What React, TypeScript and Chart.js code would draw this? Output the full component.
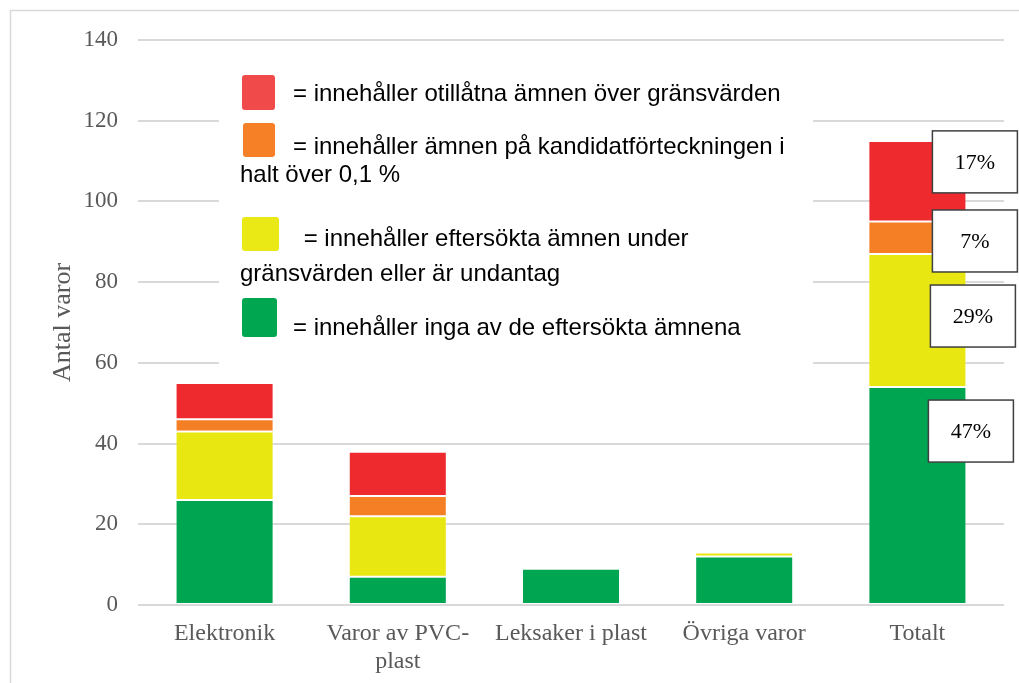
import React, { useEffect, useRef } from "react";
import { Chart, registerables } from "chart.js";

Chart.register(...registerables);

const categories: (string | string[])[] = [
  "Elektronik",
  ["Varor av PVC-", "plast"],
  "Leksaker i plast",
  "Övriga varor",
  "Totalt",
];
const greenValues = [26, 7, 9, 12, 54];
const yellowValues = [17, 15, 0, 1, 33];
const orangeValues = [3, 5, 0, 0, 8];
const redValues = [9, 11, 0, 0, 20];
const yTickValues = [0, 20, 40, 60, 80, 100, 120, 140];
const yTitle = "Antal varor";

const legendRed = ["= innehåller otillåtna ämnen över gränsvärden"];
const legendOrange = ["= innehåller ämnen på kandidatförteckningen i", "halt över 0,1 %"];
const legendYellow = [" = innehåller eftersökta ämnen under", "gränsvärden eller är undantag"];
const legendGreen = ["= innehåller inga av de eftersökta ämnena"];

const RED = "#EE2A2F";
const ORANGE = "#F47F25";
const YELLOW = "#E9E712";
const GREEN = "#00A551";

const decorPlugin = {
  id: "decor",
  beforeDraw(chart: any) {
    const ctx = chart.ctx;
    ctx.save();
    ctx.fillStyle = "#ffffff";
    ctx.fillRect(0, 0, chart.width, chart.height);
    ctx.strokeStyle = "#d9d9d9";
    ctx.lineWidth = 1.5;
    ctx.beginPath();
    ctx.moveTo(10.5, chart.height);
    ctx.lineTo(10.5, 10.5);
    ctx.lineTo(chart.width, 10.5);
    ctx.stroke();
    const area = chart.chartArea;
    ctx.translate(70, (area.top + area.bottom) / 2);
    ctx.rotate(-Math.PI / 2);
    ctx.fillStyle = "#595959";
    ctx.font = '26px "Liberation Serif", "Times New Roman", serif';
    ctx.textAlign = "center";
    ctx.textBaseline = "alphabetic";
    ctx.fillText(yTitle, 0, 0);
    ctx.restore();
  },
  afterDraw(chart: any) {
    const ctx = chart.ctx;
    ctx.save();
    ctx.fillStyle = "#ffffff";
    ctx.fillRect(219, 50, 594, 322);
    const items = [
      { color: "#F04A4A", lines: legendRed, box: [242, 75, 33, 35], b1: 101, x1: 293, b2: 0 },
      { color: "#F58025", lines: legendOrange, box: [243, 123, 32, 34], b1: 154, x1: 293, b2: 182 },
      { color: "#EAE815", lines: legendYellow, box: [242, 217, 37, 34], b1: 246, x1: 297, b2: 281 },
      { color: "#00A650", lines: legendGreen, box: [242, 298, 35, 39], b1: 335, x1: 293, b2: 0 },
    ];
    ctx.font = '24px "Liberation Sans", Arial, sans-serif';
    ctx.textBaseline = "alphabetic";
    ctx.textAlign = "left";
    for (const it of items) {
      const [bx, by, bw, bh] = it.box;
      ctx.fillStyle = it.color;
      ctx.beginPath();
      (ctx as any).roundRect(bx, by, bw, bh, 3);
      ctx.fill();
      ctx.fillStyle = "#000000";
      ctx.fillText(it.lines[0], it.x1, it.b1);
      if (it.lines[1]) ctx.fillText(it.lines[1], 240, it.b2);
    }
    const xs = chart.scales.x;
    const ys = chart.scales.y;
    const last = categories.length - 1;
    const total = greenValues[last] + yellowValues[last] + orangeValues[last] + redValues[last];
    const parts = [redValues[last], orangeValues[last], yellowValues[last], greenValues[last]];
    const anchors = [109.8, 90.2, 71.6, 43.1];
    const offsets = [15, 15, 13, 11];
    const cx = xs.getPixelForValue(last);
    ctx.font = '22px "Liberation Serif", "Times New Roman", serif';
    ctx.textAlign = "center";
    ctx.textBaseline = "middle";
    parts.forEach((v, i) => {
      const pct = Math.round((v / total) * 100) + "%";
      const left = cx + offsets[i];
      const mid = ys.getPixelForValue(anchors[i]);
      const w = 85;
      const h = 62;
      ctx.fillStyle = "#ffffff";
      ctx.fillRect(left, mid - h / 2, w, h);
      ctx.strokeStyle = "#404040";
      ctx.lineWidth = 1.5;
      ctx.strokeRect(left, mid - h / 2, w, h);
      ctx.fillStyle = "#000000";
      ctx.fillText(pct, left + w / 2, mid + 1);
    });
    ctx.restore();
  },
};

export default function App() {
  const ref = useRef<HTMLCanvasElement | null>(null);
  useEffect(() => {
    if (!ref.current) return;
    const mk = (label: string, data: number[], color: string) => ({
      label,
      data,
      backgroundColor: color,
      borderColor: "rgba(255,255,255,0.12)",
      borderWidth: 1,
      borderSkipped: false,
      categoryPercentage: 1,
      barPercentage: 0.566,
    });
    const chart = new Chart(ref.current, {
      type: "bar",
      data: {
        labels: categories,
        datasets: [
          mk("green", greenValues, GREEN),
          mk("yellow", yellowValues, YELLOW),
          mk("orange", orangeValues, ORANGE),
          mk("red", redValues, RED),
        ],
      },
      options: {
        responsive: false,
        animation: false,
        devicePixelRatio: 1,
        layout: { padding: { top: 40, right: 15, bottom: 0, left: 0 } },
        plugins: {
          legend: { display: false },
          tooltip: { enabled: false },
          title: { display: false },
        },
        scales: {
          x: {
            stacked: true,
            grid: { display: false, drawTicks: false },
            border: { display: false },
            ticks: {
              color: "#595959",
              font: { family: '"Liberation Serif", "Times New Roman", serif', size: 24, lineHeight: 1.2 },
              padding: 14,
              maxRotation: 0,
              autoSkip: false,
            },
            afterFit: (s: any) => {
              s.height = 78;
            },
          },
          y: {
            stacked: true,
            min: 0,
            max: 140,
            afterBuildTicks: (s: any) => {
              s.ticks = yTickValues.map((v) => ({ value: v }));
            },
            grid: { color: "#d9d9d9", lineWidth: 2, drawTicks: false },
            border: { display: false },
            ticks: {
              color: "#595959",
              font: { family: '"Liberation Serif", "Times New Roman", serif', size: 23 },
              padding: 20,
            },
            afterFit: (s: any) => {
              s.width = 138;
            },
          },
        },
      },
      plugins: [decorPlugin],
    } as any);
    return () => chart.destroy();
  }, []);
  return (
    <div style={{ position: "absolute", left: 0, top: 0, width: 1019, height: 683 }}>
      <canvas ref={ref} width={1019} height={683} style={{ display: "block" }} />
    </div>
  );
}
